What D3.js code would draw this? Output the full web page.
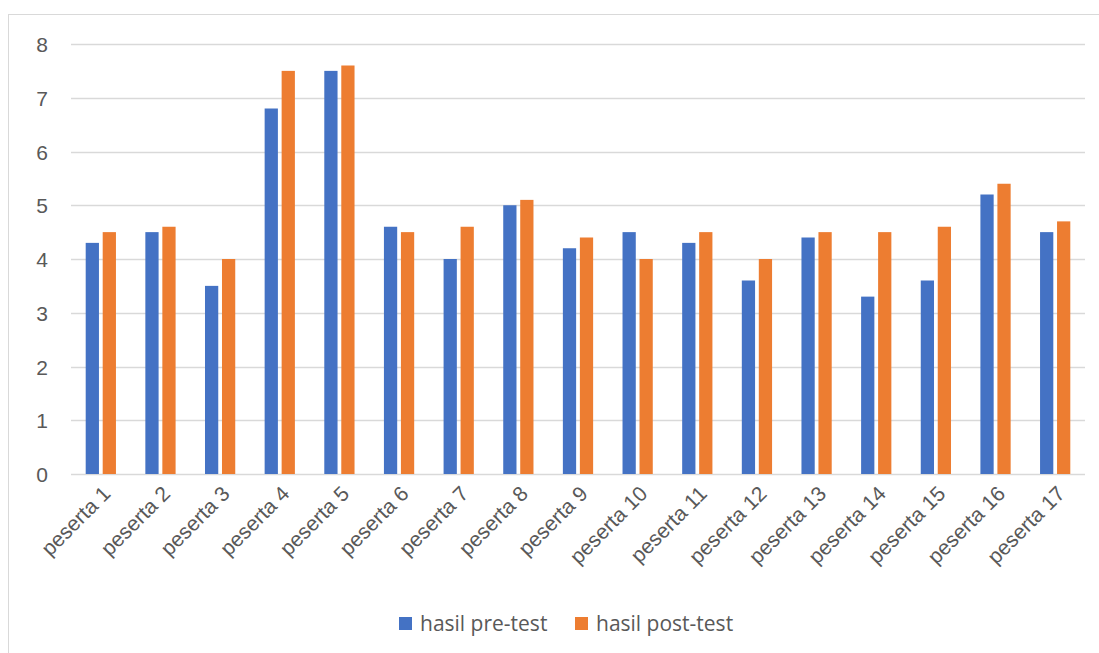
<!DOCTYPE html>
<html>
<head>
<meta charset="utf-8">
<script src="https://cdn.jsdelivr.net/npm/d3@7/dist/d3.min.js"></script>
<style>
  html, body { margin: 0; padding: 0; background: #fff; }
  svg { display: block; font-family: "Open Sans", Lato, sans-serif; }
</style>
</head>
<body>
<svg id="chart" width="1099" height="653"></svg>
<script>
// Participants and their scores before and after the test
const categories = ["peserta 1","peserta 2","peserta 3","peserta 4","peserta 5","peserta 6","peserta 7","peserta 8","peserta 9","peserta 10","peserta 11","peserta 12","peserta 13","peserta 14","peserta 15","peserta 16","peserta 17"];
const preTest  = [4.3, 4.5, 3.5, 6.8, 7.5, 4.6, 4.0, 5.0, 4.2, 4.5, 4.3, 3.6, 4.4, 3.3, 3.6, 5.2, 4.5];
const postTest = [4.5, 4.6, 4.0, 7.5, 7.6, 4.5, 4.6, 5.1, 4.4, 4.0, 4.5, 4.0, 4.5, 4.5, 4.6, 5.4, 4.7];
const yTicks = [0, 1, 2, 3, 4, 5, 6, 7, 8];
const seriesNames = ["hasil pre-test", "hasil post-test"];
const seriesColors = ["#4472C4", "#ED7D31"];

const svg = d3.select("#chart");

// chart frame
svg.append("rect")
  .attr("x", 8.5).attr("y", 14.5)
  .attr("width", 1200).attr("height", 700)
  .attr("fill", "none").attr("stroke", "#d9d9d9").attr("stroke-width", 1);

const plot = { left: 71, right: 1085, top: 44, bottom: 474 };

const x = d3.scaleBand().domain(categories).range([plot.left, plot.right]).padding(0);
const y = d3.scaleLinear().domain([0, 8]).range([plot.bottom, plot.top]);

const series = d3.scaleBand().domain(seriesNames)
  .range([0, x.bandwidth()]).paddingOuter(0.865).paddingInner(0.22);

// horizontal gridlines
svg.append("g")
  .selectAll("line")
  .data(yTicks)
  .join("line")
  .attr("x1", plot.left).attr("x2", plot.right)
  .attr("y1", d => Math.round(y(d)) + 0.5).attr("y2", d => Math.round(y(d)) + 0.5)
  .attr("stroke", "#d9d9d9").attr("stroke-width", 1.5);

// y axis labels
const yAxis = d3.axisLeft(y).tickValues(yTicks).tickSize(0).tickPadding(0).tickFormat(d3.format("d"));
const yg = svg.append("g").attr("transform", `translate(${plot.left - 23},0)`).call(yAxis);
yg.select(".domain").remove();
yg.selectAll("text").attr("fill", "#595959").attr("font-size", 21).attr("text-anchor", "end").attr("dy", "0.36em");

// bars
const rows = categories.map((c, i) => ({ cat: c, values: [preTest[i], postTest[i]] }));
const groups = svg.append("g").selectAll("g")
  .data(rows)
  .join("g")
  .attr("transform", d => `translate(${x(d.cat)},0)`);

groups.selectAll("rect")
  .data(d => d.values.map((v, j) => ({ name: seriesNames[j], value: v, color: seriesColors[j] })))
  .join("rect")
  .attr("x", d => series(d.name))
  .attr("width", series.bandwidth())
  .attr("y", d => y(d.value))
  .attr("height", d => y(0) - y(d.value))
  .attr("fill", d => d.color);

// category labels, rotated
const xAxis = d3.axisBottom(x).tickSize(0).tickPadding(0);
const xg = svg.append("g").attr("transform", `translate(0,${plot.bottom})`).call(xAxis);
xg.select(".domain").remove();
xg.selectAll("text")
  .attr("fill", "#595959")
  .attr("font-size", 21)
  .attr("text-anchor", "end")
  .attr("dy", "0")
  .attr("transform", "translate(11,21) rotate(-45)");

// legend
const legend = svg.append("g");
const legendX = [399, 575];
seriesNames.forEach((name, i) => {
  const g = legend.append("g").attr("transform", `translate(${legendX[i]},617)`);
  g.append("rect").attr("width", 13).attr("height", 13).attr("fill", seriesColors[i]);
  g.append("text").attr("x", 21).attr("y", 7).attr("dy", "0.35em")
    .attr("fill", "#595959").attr("font-size", 21).text(name);
});
</script>
</body>
</html>
